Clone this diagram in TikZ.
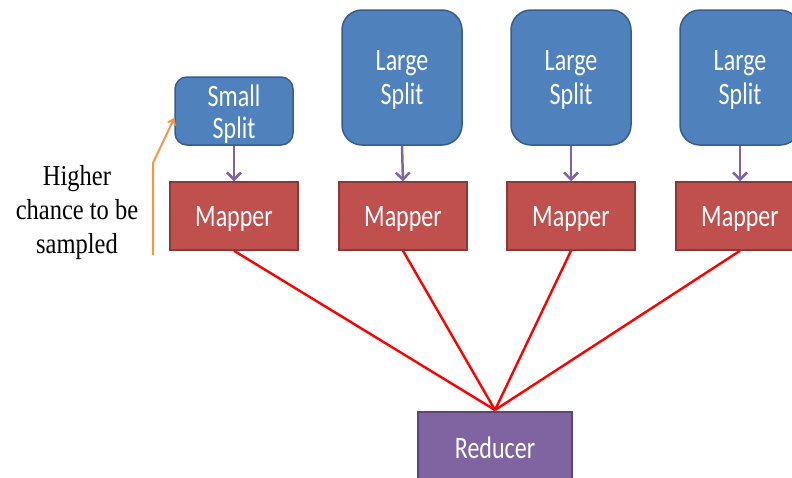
\documentclass[tikz,border=0pt]{standalone}
\usepackage{fontspec}
\usepackage{graphicx}
\setmainfont{Liberation Serif}
\newfontfamily\boxfont{Carlito}
\usetikzlibrary{arrows.meta}
\definecolor{splitfill}{HTML}{4F81BD}
\definecolor{splitline}{HTML}{385D8A}
\definecolor{mapfill}{HTML}{C0504D}
\definecolor{mapline}{HTML}{8C3836}
\definecolor{redfill}{HTML}{8064A2}
\definecolor{redline}{HTML}{5C4776}
\definecolor{feedarrow}{HTML}{8064A2}
\definecolor{noteline}{HTML}{F79646}
% tall lettering, set slightly low in its line
\newcommand\tallbox[1]{\raisebox{-3pt}[\height][\depth]{\scalebox{1}[1.3]{#1}}}
\newcommand\tallnote[1]{\scalebox{1}[1.18]{#1}}
\begin{document}
\begin{tikzpicture}[x=1pt,y=-1pt,
  boxtext/.style={font=\boxfont\fontsize{24}{34}\selectfont, text=white, align=center, inner sep=0pt},
  largesplit/.style={boxtext, fill=splitfill, draw=splitline, line width=1.5pt, rounded corners=20pt,
    minimum width=120pt, minimum height=135pt},
  smallsplit/.style={boxtext, fill=splitfill, draw=splitline, line width=1.5pt, rounded corners=12pt,
    minimum width=118pt, minimum height=68pt},
  mapbox/.style={boxtext, fill=mapfill, draw=mapline, line width=1.5pt,
    minimum width=128pt, minimum height=68pt},
  redbox/.style={boxtext, fill=redfill, draw=redline, line width=1.5pt,
    minimum width=154pt, minimum height=80pt},
  feed/.style={draw=feedarrow, line width=2.5pt, -{Straight Barb[length=7pt,width=14pt]}},
  shuffle/.style={draw=red, line width=2.4pt},
  note/.style={draw=noteline, line width=2pt, -{Straight Barb[length=5pt,width=8pt]}}
]
\useasboundingbox (0,0) rectangle (792,477);

% input splits
\node[smallsplit] (s1) at (234,111) {\tallbox{Small}\\[-2pt]\tallbox{Split}};
\node[largesplit] (s2) at (402,77.5) {\tallbox{Large}\\\tallbox{Split}};
\node[largesplit] (s3) at (571,77.5) {\tallbox{Large}\\\tallbox{Split}};
\node[largesplit] (s4) at (740,77.5) {\tallbox{Large}\\\tallbox{Split}};

% mappers
\node[mapbox] (m1) at (234,216) {\tallbox{Mapper}};
\node[mapbox] (m2) at (403,216) {\tallbox{Mapper}};
\node[mapbox] (m3) at (571,216) {\tallbox{Mapper}};
\node[mapbox] (m4) at (740,216) {\tallbox{Mapper}};

% reducer
\node[redbox] (r) at (495,452) {\raisebox{15pt}{\tallbox{Reducer}}};
\coordinate (join) at (495,410);

% split -> mapper
\foreach \i in {1,2,3,4} \draw[feed] (s\i.south) -- (m\i.north);

% mapper -> reducer
\foreach \i in {1,2,3,4} \draw[shuffle] (m\i.south) -- (join);

% sampling note
\node[align=center, font=\fontsize{24.5}{34}\selectfont, inner sep=0pt] (txt) at (77,213)
  {\tallnote{Higher}\\\tallnote{chance to be}\\\tallnote{sampled}};
\coordinate (nb) at (153,255);
\coordinate (nk) at (153,163);
\draw[note] (nb) -- (nk) -- (s1.west |- 0,118);
\end{tikzpicture}
\end{document}
